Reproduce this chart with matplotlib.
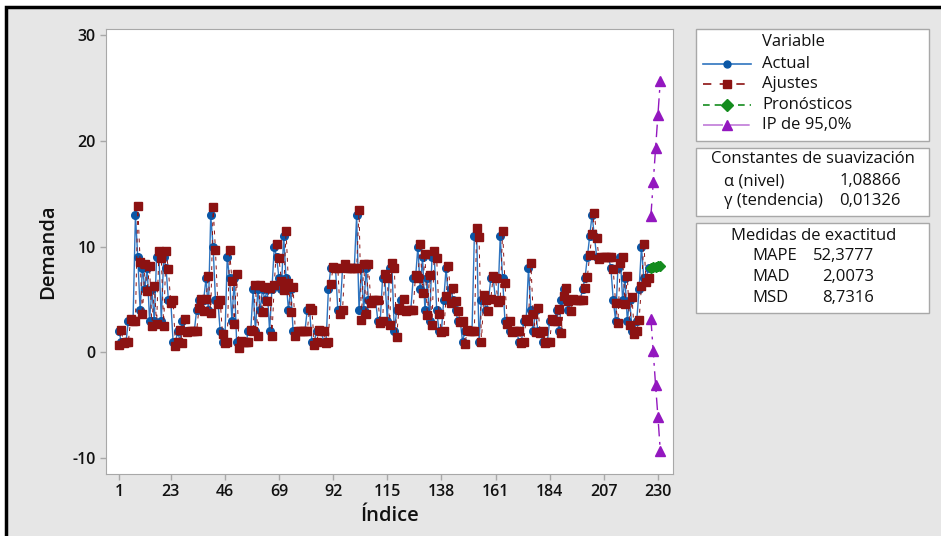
import matplotlib
matplotlib.use('Agg')
import matplotlib.pyplot as plt
from matplotlib.lines import Line2D
from matplotlib.patches import Rectangle

plt.rcParams['font.family'] = ['Open Sans', 'DejaVu Sans']
plt.rcParams['axes.unicode_minus'] = False

# Demanda observada (índices 1..226)
actual = [2, 1, 1, 1, 3, 3, 3, 13, 9, 4, 8, 6, 8, 3, 6, 3, 9, 9, 3, 9,
          8, 5, 5, 1, 1, 2, 1, 3, 2, 2, 2, 2, 2, 4, 5, 4, 5, 7, 4, 13,
          10, 5, 5, 2, 1, 1, 9, 7, 3, 7, 1, 1, 1, 1, 1, 2, 2, 6, 2, 6,
          4, 6, 5, 6, 2, 6, 10, 9, 7, 6, 11, 7, 4, 6, 2, 2, 2, 2, 2, 2,
          4, 4, 1, 1, 2, 2, 2, 1, 1, 6, 8, 8, 8, 4, 4, 8, 8, 8, 8, 8,
          8, 13, 4, 8, 4, 8, 5, 5, 5, 5, 3, 3, 7, 7, 3, 8, 8, 2, 4, 4,
          5, 4, 4, 4, 4, 7, 7, 10, 6, 9, 4, 7, 3, 9, 9, 4, 2, 2, 5, 8,
          5, 6, 5, 4, 3, 3, 1, 2, 2, 2, 2, 11, 11, 1, 5, 5, 4, 5, 7, 7,
          5, 5, 11, 7, 3, 3, 2, 2, 2, 2, 1, 1, 3, 3, 8, 4, 2, 4, 2, 2,
          1, 1, 1, 3, 3, 3, 4, 2, 5, 6, 5, 4, 5, 5, 5, 5, 5, 6, 7, 9,
          11, 13, 11, 9, 9, 9, 9, 9, 9, 8, 5, 3, 8, 9, 5, 7, 3, 5, 2, 2,
          3, 6, 10, 7, 7, 8]

# Ajustes del modelo (índices 1..226)
fits = [0.7, 2.1, 0.9, 1.0, 1.0, 3.2, 3.0, 3.0, 13.9, 8.6, 3.6, 8.4, 5.8, 8.2, 2.5, 6.3,
        2.7, 9.6, 8.9, 2.5, 9.6, 7.9, 4.7, 5.0, 0.6, 1.0, 2.1, 0.9, 3.2, 1.9, 2.0, 2.0,
        2.0, 2.0, 4.2, 5.1, 3.9, 5.1, 7.2, 3.7, 13.8, 9.7, 4.6, 5.0, 1.7, 0.9, 1.0, 9.7,
        6.8, 2.7, 7.4, 0.4, 1.1, 1.0, 1.0, 1.0, 2.1, 2.0, 6.4, 1.6, 6.4, 3.8, 6.2, 4.9,
        6.1, 1.6, 6.4, 10.3, 8.9, 6.8, 5.9, 11.5, 6.6, 3.8, 6.2, 1.6, 2.0, 2.0, 2.0, 2.0,
        2.0, 4.2, 4.0, 0.7, 1.0, 2.1, 2.0, 2.0, 0.9, 1.0, 6.5, 8.1, 8.0, 8.0, 3.6, 4.0,
        8.4, 8.0, 8.0, 8.0, 8.0, 8.0, 13.5, 3.1, 8.4, 3.6, 8.4, 4.7, 5.0, 5.0, 5.0, 2.8,
        3.0, 7.4, 7.0, 2.6, 8.5, 8.0, 1.5, 4.2, 4.0, 5.1, 3.9, 4.0, 4.0, 4.0, 7.3, 7.0,
        10.3, 5.6, 9.3, 3.5, 7.3, 2.6, 9.6, 8.9, 3.6, 1.9, 2.0, 5.3, 8.2, 4.7, 6.1, 4.9,
        3.9, 2.9, 3.0, 0.8, 2.1, 2.0, 2.0, 2.0, 11.8, 10.9, 1.0, 5.4, 5.0, 3.9, 5.1, 7.2,
        7.0, 4.8, 5.0, 11.5, 6.6, 2.7, 3.0, 1.9, 2.0, 2.0, 2.0, 0.9, 1.0, 3.2, 3.0, 8.5,
        3.6, 1.9, 4.2, 1.8, 2.0, 0.9, 1.0, 1.0, 3.2, 3.0, 3.0, 4.1, 1.8, 5.3, 6.1, 4.9,
        3.9, 5.1, 5.0, 5.0, 5.0, 5.0, 6.1, 7.1, 9.2, 11.2, 13.2, 10.8, 8.8, 9.0, 9.0, 9.0,
        9.0, 9.0, 7.9, 4.7, 2.8, 8.5, 9.0, 4.6, 7.2, 2.6, 5.2, 1.7, 2.0, 3.1, 6.3, 10.3,
        6.7, 7.0]

# Pronósticos e intervalo de predicción
fc_idx = [227, 228, 229, 230, 231]
forecast = [8.0, 8.1, 8.1, 8.2, 8.2]
upper = [12.9, 16.1, 19.3, 22.5, 25.7]
lower = [3.2, 0.1, -3.1, -6.1, -9.3]

idx = list(range(1, len(actual) + 1))
xticks = [1, 23, 46, 69, 92, 115, 138, 161, 184, 207, 230]

BLUE = '#0a57a6'
BLUE_L = '#2f74bf'
RED = '#8c1212'
GREEN = '#148c1e'
PURPLE = '#9317bf'
GRAY = '#e6e6e6'
EDGE = '#a8a8a8'

W, H = 941, 536
fig = plt.figure(figsize=(W / 100, H / 100), dpi=100, facecolor='white')
fig.patches.append(Rectangle((6 / W, -0.1), 1.2, 1 - 7 / H + 0.1, transform=fig.transFigure,
                             facecolor=GRAY, edgecolor='black', linewidth=2.5, zorder=-5))

ax = fig.add_axes([106 / W, 1 - 474 / H, (673 - 106) / W, (474 - 29) / H])
ax.set_zorder(3)
ax.set_facecolor('white')
ax.plot(idx, actual, color=BLUE_L, lw=1.0, marker='o', ms=5.5, mfc=BLUE, mec=BLUE, zorder=3)
ax.plot(idx, fits, color=RED, lw=0.7, ls=(0, (4, 5)), marker='s', ms=6.3, mfc=RED, mec=RED,
        zorder=4)
ax.plot(fc_idx, forecast, color=GREEN, lw=1, ls='--', marker='D', ms=5.5, mfc=GREEN,
        mec=GREEN, zorder=5)
ax.plot(fc_idx, upper, color=PURPLE, lw=1, ls=(0, (9, 4, 2, 4)), marker='^', ms=6.5,
        mfc=PURPLE, mec=PURPLE, zorder=5)
ax.plot(fc_idx, lower, color=PURPLE, lw=1, ls=(0, (9, 4, 2, 4)), marker='^', ms=6.5,
        mfc=PURPLE, mec=PURPLE, zorder=5)

ax.set_xlim(-4.5, 236.4)
ax.set_ylim(-11.5, 30.6)
ax.set_xticks(xticks)
ax.set_yticks([-10, 0, 10, 20, 30])
ax.tick_params(colors=EDGE, labelcolor='#111111', labelsize=11.5, length=4, width=1)
for lab in ax.get_xticklabels() + ax.get_yticklabels():
    lab.set_fontweight('semibold')
for s in ax.spines.values():
    s.set_color(EDGE)
ax.set_xlabel('Índice', fontsize=14.5, fontweight='semibold', color='#111111', labelpad=4)
ax.set_ylabel('Demanda', fontsize=14.5, fontweight='semibold', color='#111111', labelpad=10)


def box(y0, y1):
    fig.patches.append(Rectangle((696 / W, 1 - y1 / H), (929 - 696) / W, (y1 - y0) / H,
                                 transform=fig.transFigure, facecolor='white',
                                 edgecolor=EDGE, linewidth=1, zorder=1))


def ftext(x, y, s, ha='left'):
    fig.text(x / W, 1 - y / H, s, ha=ha, va='center', fontsize=12, color='#111111')


box(29, 141)
box(148, 216)
box(223, 313)

ftext(793, 42, 'Variable', ha='center')
entries = [('Actual', 64, BLUE_L, '-', 'o', BLUE, 5),
           ('Ajustes', 84, RED, (0, (5, 5)), 's', RED, 6),
           ('Pronósticos', 105, GREEN, (0, (4, 3)), 'D', GREEN, 6),
           ('IP de 95,0%', 125, '#c07ad8', (0, (12, 4)), '^', PURPLE, 7)]
for label, y, lc, ls, mk, mc, ms in entries:
    yy = 1 - y / H
    fig.add_artist(Line2D([703 / W, 751 / W], [yy, yy], transform=fig.transFigure,
                          color=lc, lw=1.2, ls=ls))
    fig.add_artist(Line2D([727 / W], [yy], transform=fig.transFigure, marker=mk,
                          ms=ms, mfc=mc, mec=mc, ls='none'))
    ftext(762, y, label)

ftext(813, 159, 'Constantes de suavización', ha='center')
ftext(724, 181, 'α (nivel)')
ftext(901, 181, '1,08866', ha='right')
ftext(724, 201, 'γ (tendencia)')
ftext(901, 201, '0,01326', ha='right')

ftext(814, 236, 'Medidas de exactitud', ha='center')
ftext(752, 256, 'MAPE')
ftext(874, 256, '52,3777', ha='right')
ftext(752, 277, 'MAD')
ftext(874, 277, '2,0073', ha='right')
ftext(752, 298, 'MSD')
ftext(874, 298, '8,7316', ha='right')

fig.savefig('out.png', dpi=100)
